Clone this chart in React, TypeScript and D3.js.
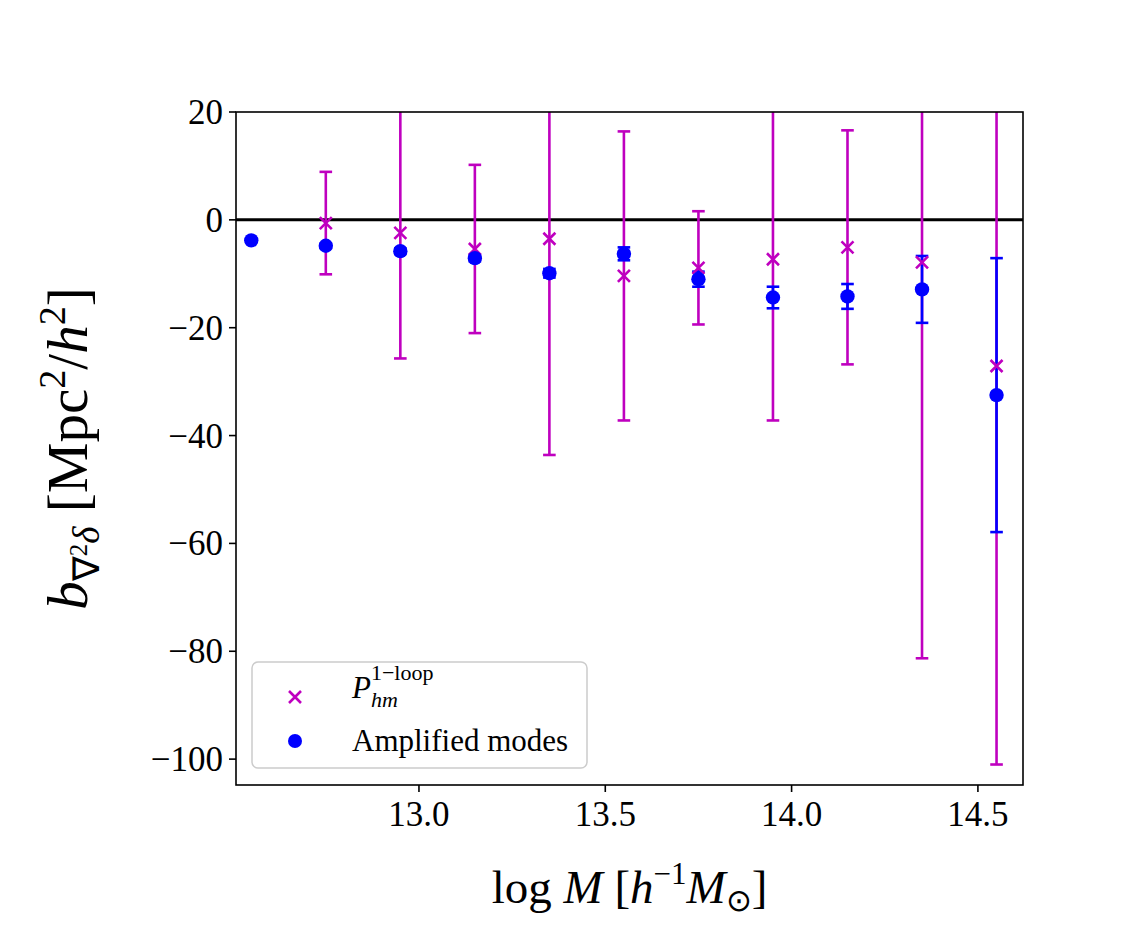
import React from 'react';
import * as d3 from 'd3';

// halo mass bins (log M) and the fitted b_{nabla^2 delta} values
const loopMass = [12.75, 12.95, 13.15, 13.35, 13.55, 13.75, 13.95, 14.15, 14.35, 14.55];
const loopBias = [-0.6, -2.4, -5.4, -3.5, -10.4, -8.9, -7.3, -5.1, -7.9, -27.1];
const loopErr = [9.5, 23.3, 15.6, 40.1, 26.8, 10.5, 29.9, 21.7, 73.4, 73.9];

const ampMass = [12.55, 12.75, 12.95, 13.15, 13.35, 13.55, 13.75, 13.95, 14.15, 14.35, 14.55];
const ampBias = [-3.8, -4.8, -5.8, -7.1, -9.9, -6.3, -11.0, -14.4, -14.2, -12.9, -32.5];
const ampErr = [0.3, 0.4, 0.5, 0.6, 0.8, 1.2, 1.4, 2.0, 2.3, 6.2, 25.4];

const xTicks = [13.0, 13.5, 14.0, 14.5];
const yTicks = [-100, -80, -60, -40, -20, 0, 20];

const W = 1137;
const H = 932;
const left = 236, right = 1023, top = 112, bottom = 785;

const MAGENTA = '#bf00bf';
const BLUE = '#0000ff';
const FONT = '"Liberation Serif", "Times New Roman", serif';

const App: React.FC = () => {
  const x = d3.scaleLinear().domain([12.509, 14.621]).range([left, right]);
  const y = d3.scaleLinear().domain([-104.8, 20]).range([bottom, top]);
  const fmt = d3.format('.1f');
  const minus = (v: number) => (v < 0 ? '\u2212' + Math.abs(v) : String(v));
  const cap = 6.3;

  const errBars = (ms: number[], bs: number[], es: number[], color: string) =>
    ms.map((m, i) => {
      const cx = x(m);
      const y1 = y(bs[i] + es[i]);
      const y2 = y(bs[i] - es[i]);
      return (
        <g key={i} stroke={color} strokeWidth={2.6}>
          <line x1={cx} x2={cx} y1={y1} y2={y2} />
          <line x1={cx - cap} x2={cx + cap} y1={y1} y2={y1} />
          <line x1={cx - cap} x2={cx + cap} y1={y2} y2={y2} />
        </g>
      );
    });

  const cross = (cx: number, cy: number, key: number | string) => (
    <path
      key={key}
      d={`M${cx - 6},${cy - 6}L${cx + 6},${cy + 6}M${cx - 6},${cy + 6}L${cx + 6},${cy - 6}`}
      stroke={MAGENTA}
      strokeWidth={2.6}
      fill="none"
    />
  );

  return (
    <svg width={W} height={H} style={{ position: 'absolute', left: 0, top: 0, background: '#fff' }} fontFamily={FONT}>
      <defs>
        <clipPath id="plot">
          <rect x={left} y={top} width={right - left} height={bottom - top} />
        </clipPath>
      </defs>

      <g clipPath="url(#plot)">
        <line x1={left} x2={right} y1={y(0)} y2={y(0)} stroke="#000" strokeWidth={3} />
        {errBars(loopMass, loopBias, loopErr, MAGENTA)}
        {errBars(ampMass, ampBias, ampErr, BLUE)}
        {loopMass.map((m, i) => cross(x(m), y(loopBias[i]), i))}
        {ampMass.map((m, i) => (
          <circle key={i} cx={x(m)} cy={y(ampBias[i])} r={7.2} fill={BLUE} />
        ))}
      </g>

      {/* frame */}
      <rect x={left} y={top} width={right - left} height={bottom - top} fill="none" stroke="#000" strokeWidth={1.6} />

      {/* y axis */}
      {yTicks.map((t) => (
        <g key={t}>
          <line x1={left - 7} x2={left} y1={y(t)} y2={y(t)} stroke="#000" strokeWidth={1.6} />
          <text x={left - 13} y={y(t) + 12} textAnchor="end" fontSize={35}>
            {minus(t)}
          </text>
        </g>
      ))}

      {/* x axis */}
      {xTicks.map((t) => (
        <g key={t}>
          <line x1={x(t)} x2={x(t)} y1={bottom} y2={bottom + 7} stroke="#000" strokeWidth={1.6} />
          <text x={x(t)} y={826} textAnchor="middle" fontSize={35}>
            {fmt(t)}
          </text>
        </g>
      ))}

      {/* axis titles */}
      <text x={(left + right) / 2} y={903} textAnchor="middle" fontSize={47}>
        log <tspan fontStyle="italic">M</tspan> [<tspan fontStyle="italic">h</tspan>
        <tspan fontSize={31} dy={-19}>{'\u22121'}</tspan>
        <tspan fontStyle="italic" dy={19}>M</tspan>
        <tspan fontSize={31} dy={8}>{'\u2299'}</tspan>
        <tspan dy={-8}>]</tspan>
      </text>
      <text transform={`translate(87, ${(top + bottom) / 2}) rotate(-90)`} textAnchor="middle" fontSize={57}>
        <tspan fontStyle="italic">b</tspan>
        <tspan fontSize={37} dy={12}>{'\u2207'}</tspan>
        <tspan fontSize={25} dy={-12}>2</tspan>
        <tspan fontSize={37} fontStyle="italic" dy={12}>{'\u03b4'}</tspan>
        <tspan dy={-12}> [Mpc</tspan>
        <tspan fontSize={38} dy={-22}>2</tspan>
        <tspan dy={22}>/</tspan>
        <tspan fontStyle="italic">h</tspan>
        <tspan fontSize={38} dy={-22}>2</tspan>
        <tspan dy={22}>]</tspan>
      </text>

      {/* legend */}
      <g>
        <rect x={252} y={662} width={335} height={106} rx={6} fill="#fff" fillOpacity={0.8} stroke="#cccccc" strokeWidth={1.5} />
        {cross(295, 697, 'lg')}
        <text x={352} y={698} fontSize={31}>
          <tspan fontStyle="italic">P</tspan>
          <tspan fontSize={22} dy={-18}>1{'\u2212'}loop</tspan>
        </text>
        <text x={371} y={707} fontSize={22} fontStyle="italic">hm</text>
        <circle cx={295} cy={741} r={7} fill={BLUE} />
        <text x={352} y={751} fontSize={31}>Amplified modes</text>
      </g>
    </svg>
  );
};

export default App;
